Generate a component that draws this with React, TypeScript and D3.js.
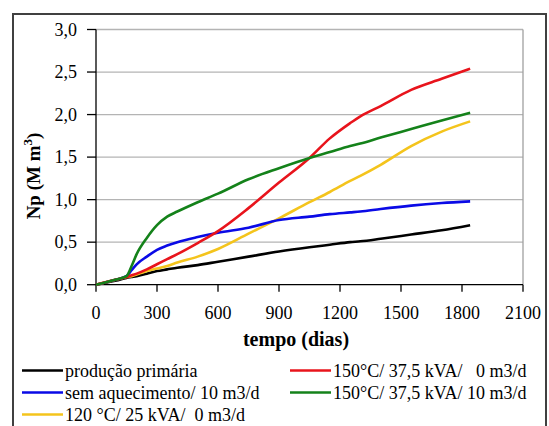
import React from "react";
import * as d3 from "d3";

// dias de produção (eixo x) e Np acumulado (M m3) de cada caso
const days = [0, 100, 150, 175, 200, 250, 300, 350, 400, 500, 600, 750, 900, 1050, 1150, 1250, 1300, 1400, 1550, 1700, 1840];
const primaria = [0, 0.05, 0.08, 0.09, 0.1, 0.13, 0.16, 0.18, 0.2, 0.23, 0.27, 0.33, 0.39, 0.44, 0.47, 0.5, 0.51, 0.54, 0.59, 0.64, 0.7];
const semAquec = [0, 0.06, 0.1, 0.17, 0.24, 0.33, 0.41, 0.46, 0.5, 0.56, 0.61, 0.67, 0.76, 0.8, 0.83, 0.85, 0.86, 0.89, 0.93, 0.96, 0.98];
const c120 = [0, 0.06, 0.09, 0.1, 0.12, 0.16, 0.19, 0.22, 0.26, 0.33, 0.42, 0.6, 0.78, 0.97, 1.09, 1.22, 1.28, 1.41, 1.63, 1.8, 1.92];
const c150_0 = [0, 0.06, 0.09, 0.11, 0.13, 0.18, 0.24, 0.3, 0.36, 0.49, 0.63, 0.9, 1.2, 1.49, 1.72, 1.9, 1.98, 2.1, 2.29, 2.42, 2.54];
const c150_10 = [0, 0.06, 0.1, 0.22, 0.36, 0.55, 0.7, 0.8, 0.86, 0.97, 1.07, 1.24, 1.37, 1.49, 1.56, 1.63, 1.66, 1.73, 1.83, 1.93, 2.02];

const xTicks = [0, 300, 600, 900, 1200, 1500, 1800, 2100];
const yTicks = [0, 0.5, 1, 1.5, 2, 2.5, 3];

const series = [
  { name: "produção primária", values: primaria, color: "#000000" },
  { name: "150°C/ 37,5 kVA/   0 m3/d", values: c150_0, color: "#e8141c" },
  { name: "sem aquecimento/ 10 m3/d", values: semAquec, color: "#0a0ae6" },
  { name: "150°C/ 37,5 kVA/ 10 m3/d", values: c150_10, color: "#14821a" },
  { name: "120 °C/ 25 kVA/  0 m3/d", values: c120, color: "#f4c41c" },
];
// ordem de desenho das curvas
const drawOrder = [0, 4, 2, 1, 3];

const font = "Times New Roman";

export default function App() {
  const left = 96, right = 523, top = 29.5, bottom = 284.7;
  const x = d3.scaleLinear().domain([0, 2100]).range([left, right]);
  const y = d3.scaleLinear().domain([0, 3]).range([bottom, top]);
  const line = d3
    .line<number>()
    .x((_, i) => x(days[i]))
    .y((d) => y(d))
    .curve(d3.curveMonotoneX);

  const fmt = (v: number) => v.toFixed(1).replace(".", ",");

  return (
    <svg width={549} height={426} style={{ position: "absolute", left: 0, top: 0, background: "#fff" }}>
      <rect x={0} y={0} width={549} height={426} fill="#fff" />
      {/* moldura externa */}
      <rect x={13} y={14} width={533} height={430} fill="none" stroke="#404040" strokeWidth={2} />

      {/* grade */}
      {yTicks.filter((t) => t > 0).map((t) => (
        <line key={t} x1={left} x2={right} y1={y(t)} y2={y(t)} stroke="#b4b4b4" strokeWidth={1.3} />
      ))}
      <line x1={right} x2={right} y1={top} y2={bottom} stroke="#a0a0a0" strokeWidth={1.3} />

      {/* eixos */}
      <line x1={left} x2={left} y1={top} y2={bottom} stroke="#000" strokeWidth={1.3} />
      <line x1={left} x2={right} y1={bottom} y2={bottom} stroke="#000" strokeWidth={1.3} />
      {yTicks.map((t) => (
        <g key={t}>
          <line x1={left - 9} x2={left} y1={y(t)} y2={y(t)} stroke="#000" strokeWidth={1.3} />
          <text x={77} y={y(t) + 6} textAnchor="end" fontSize={18} fontFamily={font}>
            {fmt(t)}
          </text>
        </g>
      ))}
      {xTicks.map((t) => (
        <g key={t}>
          <line x1={x(t)} x2={x(t)} y1={bottom} y2={bottom + 7} stroke="#000" strokeWidth={1.3} />
          <text x={x(t)} y={319} textAnchor="middle" fontSize={18} fontFamily={font}>
            {t}
          </text>
        </g>
      ))}

      {/* curvas */}
      {drawOrder.map((i) => (
        <path
          key={i}
          d={line(series[i].values) || ""}
          fill="none"
          stroke={series[i].color}
          strokeWidth={2.6}
          strokeLinejoin="round"
        />
      ))}

      {/* títulos */}
      <text x={296} y={346} textAnchor="middle" fontSize={20} fontWeight="bold" fontFamily={font}>
        tempo (dias)
      </text>
      <text
        transform="translate(40,176) rotate(-90)"
        textAnchor="middle"
        fontSize={19}
        fontWeight="bold"
        fontFamily={font}
      >
        Np (M m<tspan dy={-8} fontSize={13}>3</tspan>
        <tspan dy={8}>)</tspan>
      </text>

      {/* legenda */}
      {series.map((s, i) => {
        const col = i % 2;
        const row = Math.floor(i / 2);
        const lx = col === 0 ? 22 : 290;
        const ly = 370.5 + row * 22;
        return (
          <g key={s.name}>
            <line x1={lx} x2={lx + 41} y1={ly} y2={ly} stroke={s.color} strokeWidth={2.6} />
            <text x={lx + 43} y={ly + 6} fontSize={18} fontFamily={font} style={{ whiteSpace: "pre" }}>
              {s.name}
            </text>
          </g>
        );
      })}
      {/* a moldura corta o texto da legenda à direita */}
      <rect x={547} y={0} width={2} height={426} fill="#fff" />
    </svg>
  );
}
